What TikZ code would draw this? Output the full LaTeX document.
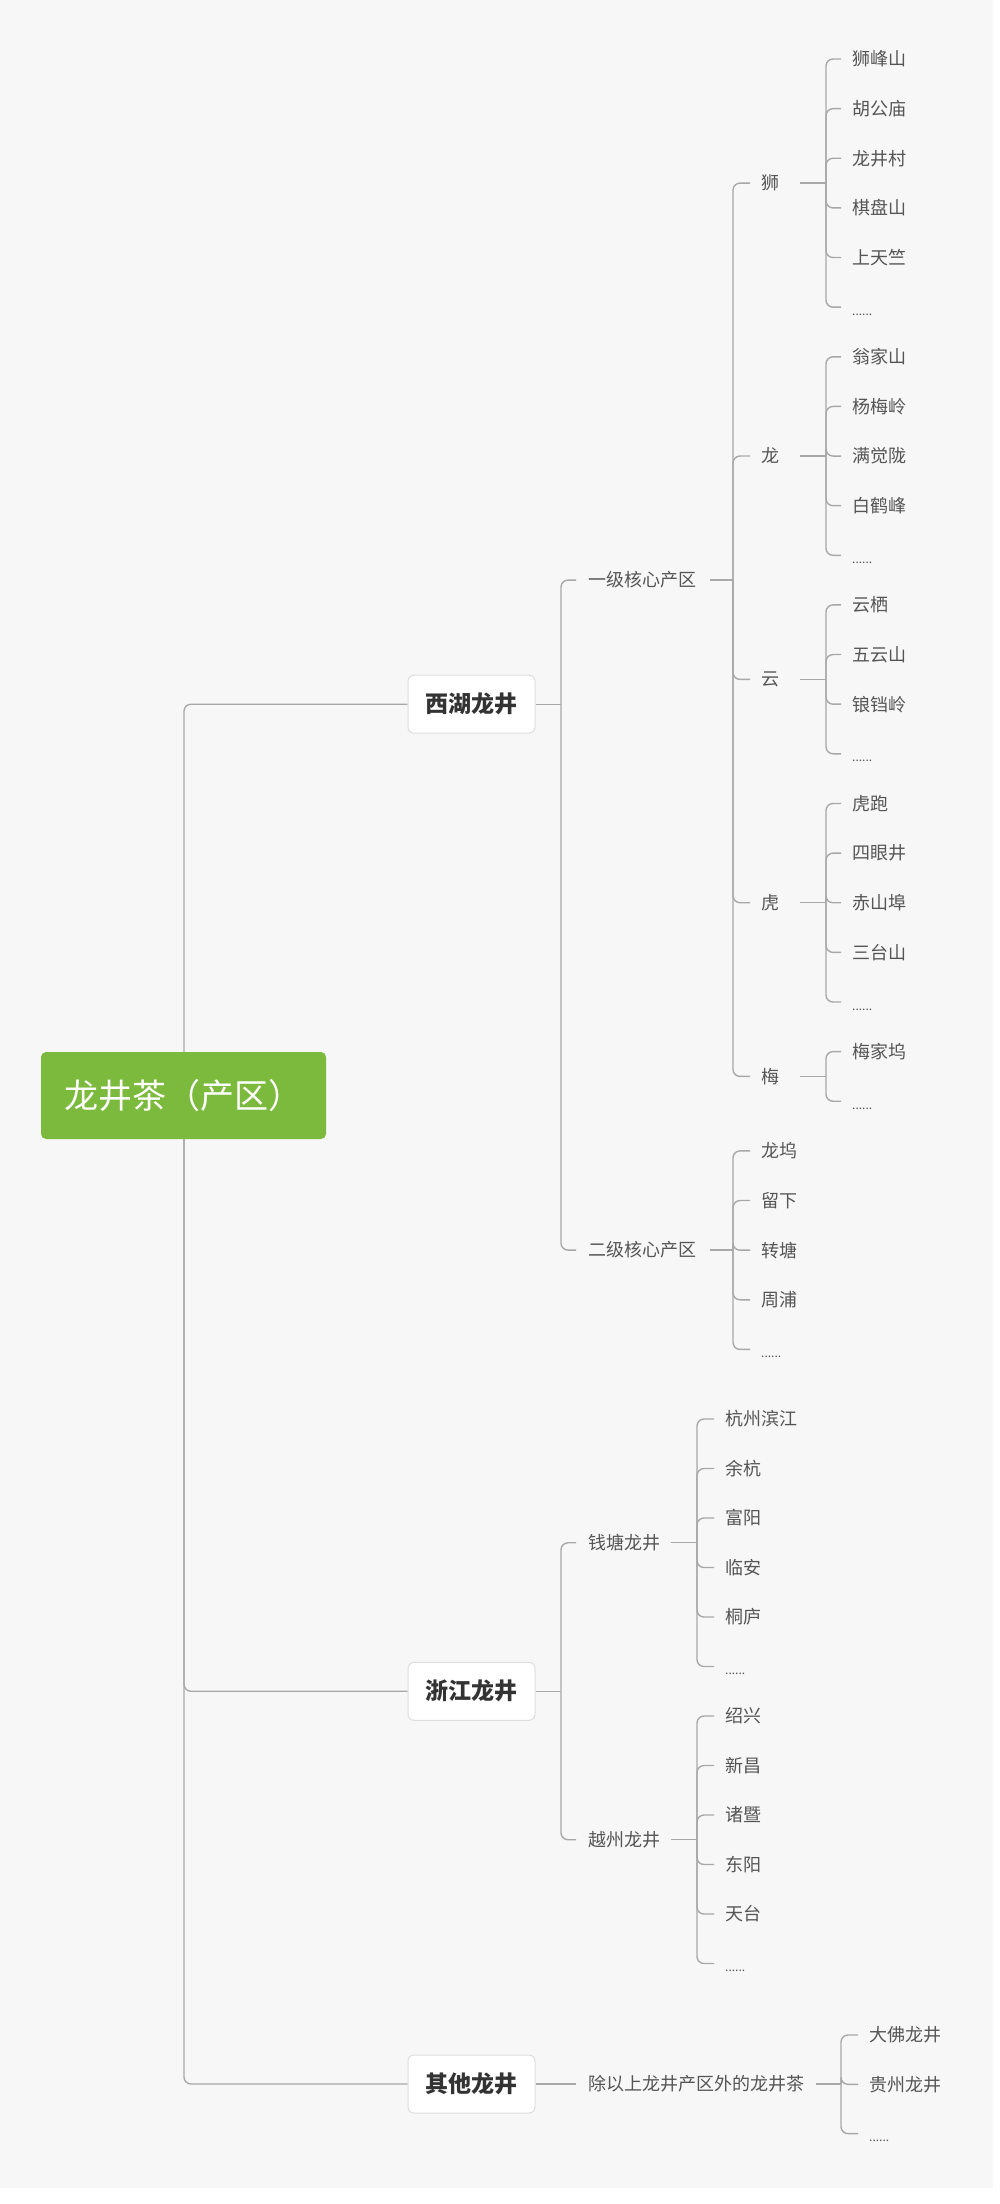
\documentclass[tikz,border=0pt]{standalone}
\usepackage{fontspec}
\setmainfont{Noto Sans CJK SC}
\definecolor{bgc}{HTML}{F7F7F7}
\definecolor{ln}{HTML}{A8A8A8}
\definecolor{txt}{HTML}{555555}
\definecolor{dk}{HTML}{333333}
\definecolor{bd}{HTML}{DDDDDD}
\definecolor{grn}{HTML}{7CBA3D}
\pgfdeclarelayer{bgl}
\pgfdeclarelayer{lines}
\pgfsetlayers{bgl,lines,main}
\newcommand\dd{\raisebox{-8pt}[0pt][0pt]{\fontsize{12}{12}\selectfont ......}}
\newcommand\grp[6]{%
  \foreach \t [count=\k from 0] in {#6}{%
    \node[leaf] (#1\k) at (#3,{#4+#5*\k}) {\t};
    \begin{pgfonlayer}{lines}\draw[conn] (#2) |- ([xshift=-11pt]#1\k.west);\end{pgfonlayer}
  }}
\tikzset{
 leaf/.style={anchor=west, inner sep=0pt, text=txt, font=\fontsize{18}{20}\selectfont},
 conn/.style={draw=ln, line width=1.4pt, rounded corners=7pt},
 lone/.style={draw=bd, fill=white, rounded corners=6pt, minimum width=127pt, minimum height=58pt, font=\fontsize{23}{25}\selectfont\bfseries, text=dk, line width=1pt},
 rootbox/.style={fill=grn, rounded corners=5pt, minimum width=285pt, minimum height=87pt, text=white, font=\fontsize{34}{36}\selectfont}
}
\begin{document}
\begin{tikzpicture}[x=1pt,y=-1pt]
\useasboundingbox (0,0) rectangle (1000,2204);
\begin{pgfonlayer}{bgl}
\fill[white] (0,0) rectangle (1000,2204);
\fill[bgc] (0,0) rectangle (993,2188);
\end{pgfonlayer}

% root and level 1
\node[rootbox] (root) at (183.5,1095.5) {龙井茶（产区）};
\coordinate (rootB) at (184,1095.5);
\node[lone] (xihu) at (471.5,704.2) {西湖龙井};
\node[lone] (zhej) at (471.5,1691.25) {浙江龙井};
\node[lone] (qita) at (471.5,2084) {其他龙井};
\begin{pgfonlayer}{lines}
\draw[conn] (rootB) |- (xihu.west);
\draw[conn] (rootB) |- (zhej.west);
\draw[conn] (rootB) |- (qita.west);
\end{pgfonlayer}

% 西湖龙井
\node[leaf] (yiji) at (588,580.1) {一级核心产区};
\node[leaf] (erji) at (588,1250.1) {二级核心产区};
\coordinate (xihuB) at (561,704.2);
\begin{pgfonlayer}{lines}
\draw[conn] (xihu.east) -- (xihuB);
\draw[conn] (xihuB) |- ([xshift=-12pt]yiji.west);
\draw[conn] (xihuB) |- ([xshift=-12pt]erji.west);
\end{pgfonlayer}

% 一级核心产区
\coordinate (yijiB) at (733,580.1);
\node[leaf] (shi) at (761,183.1) {狮};
\node[leaf] (long) at (761,456.0) {龙};
\node[leaf] (yun) at (761,679.4) {云};
\node[leaf] (hu) at (761,902.7) {虎};
\node[leaf] (mei) at (761,1076.4) {梅};
\begin{pgfonlayer}{lines}
\draw[conn] ([xshift=14pt]yiji.east) -- (yijiB);
\foreach \n in {shi,long,yun,hu,mei}{\draw[conn] (yijiB) |- ([xshift=-11pt]\n.west);}
\end{pgfonlayer}

\coordinate (shiB) at (826,183.1);
\coordinate (longB) at (826,456.0);
\coordinate (yunB) at (826,679.4);
\coordinate (huB) at (826,902.7);
\coordinate (meiB) at (826,1076.4);
\begin{pgfonlayer}{lines}
\foreach \n in {shi,long,yun,hu,mei}{\draw[conn] ([xshift=21pt]\n.east) -- (\n B);}
\end{pgfonlayer}
\grp{s}{shiB}{852}{59}{49.63}{狮峰山,胡公庙,龙井村,棋盘山,上天竺,\dd}
\grp{l}{longB}{852}{356.8}{49.63}{翁家山,杨梅岭,满觉陇,白鹤峰,\dd}
\grp{y}{yunB}{852}{604.9}{49.63}{云栖,五云山,锒铛岭,\dd}
\grp{h}{huB}{852}{803.5}{49.63}{虎跑,四眼井,赤山埠,三台山,\dd}
\grp{m}{meiB}{852}{1051.6}{49.63}{梅家坞,\dd}

% 二级核心产区
\coordinate (erjiB) at (733,1250.1);
\begin{pgfonlayer}{lines}
\draw[conn] ([xshift=14pt]erji.east) -- (erjiB);
\end{pgfonlayer}
\grp{e}{erjiB}{761}{1150.9}{49.63}{龙坞,留下,转塘,周浦,\dd}

% 浙江龙井
\node[leaf] (qt) at (588,1542.75) {钱塘龙井};
\node[leaf] (yz) at (588,1839.75) {越州龙井};
\coordinate (zhejB) at (561,1691.25);
\coordinate (qtB) at (697,1542.75);
\coordinate (yzB) at (697,1839.75);
\begin{pgfonlayer}{lines}
\draw[conn] (zhej.east) -- (zhejB);
\draw[conn] (zhejB) |- ([xshift=-12pt]qt.west);
\draw[conn] (zhejB) |- ([xshift=-12pt]yz.west);
\draw[conn] ([xshift=11pt]qt.east) -- (qtB);
\draw[conn] ([xshift=11pt]yz.east) -- (yzB);
\end{pgfonlayer}
\grp{q}{qtB}{725}{1419}{49.5}{杭州滨江,余杭,富阳,临安,桐庐,\dd}
\grp{z}{yzB}{725}{1716}{49.5}{绍兴,新昌,诸暨,东阳,天台,\dd}

% 其他龙井
\node[leaf] (cy) at (588,2084) {除以上龙井产区外的龙井茶};
\coordinate (cyB) at (841,2084);
\begin{pgfonlayer}{lines}
\draw[conn] (qita.east) -- ([xshift=-12pt]cy.west);
\draw[conn] ([xshift=12pt]cy.east) -- (cyB);
\end{pgfonlayer}
\grp{o}{cyB}{869}{2035}{49.3}{大佛龙井,贵州龙井,\dd}
\end{tikzpicture}
\end{document}
